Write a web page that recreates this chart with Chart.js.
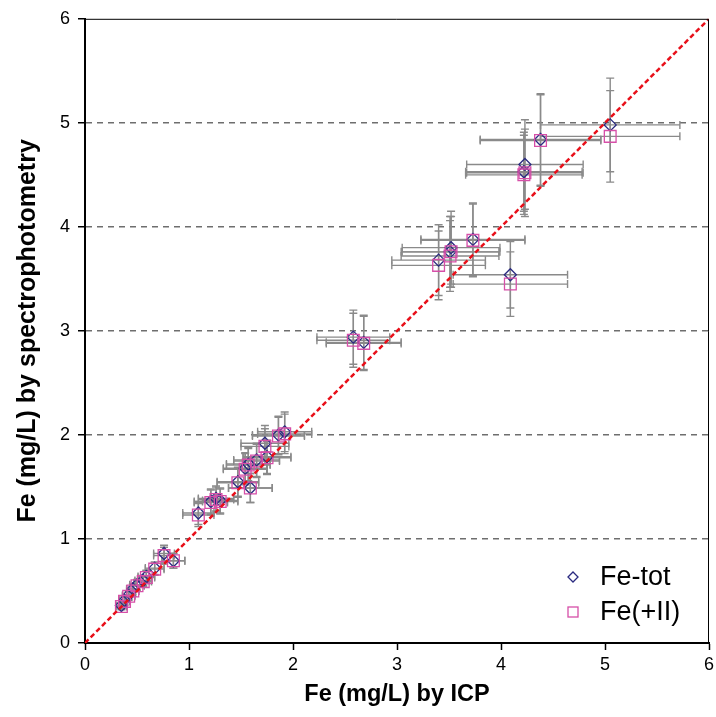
<!DOCTYPE html>
<html>
<head>
<meta charset="utf-8">
<script src="https://cdn.jsdelivr.net/npm/chart.js"></script>
<style>
  html, body { margin: 0; padding: 0; background: #fff; }
  #wrap { width: 716px; height: 717px; }
</style>
</head>
<body>
<div id="wrap"><canvas id="chart" width="716" height="717"></canvas></div>
<script>
// ====== DATA ======
// Fe by ICP (x), shared by both series
const icpFe = [5.05, 4.38, 4.23, 4.22, 3.73, 3.52, 3.51, 3.40, 4.09, 2.58, 2.68,
  1.92, 1.86, 1.73, 1.75, 1.65, 1.57, 1.54, 1.47, 1.59, 1.26, 1.21, 1.30, 1.09,
  0.76, 0.85, 0.67, 0.59, 0.56, 0.50, 0.46, 0.42, 0.38, 0.35];
const icpErr = [0.67, 0.58, 0.56, 0.56, 0.50, 0.47, 0.47, 0.45, 0.55, 0.35, 0.36,
  0.26, 0.25, 0.23, 0.23, 0.22, 0.21, 0.21, 0.20, 0.21, 0.17, 0.16, 0.17, 0.15,
  0.10, 0.11, 0.09, 0.08, 0.08, 0.07, 0.06, 0.06, 0.05, 0.05];

// Fe-tot by spectrophotometry
const feTot = [4.98, 4.84, 4.60, 4.53, 3.88, 3.80, 3.76, 3.68, 3.54, 2.94, 2.89,
  2.03, 2.00, 1.92, 1.79, 1.76, 1.72, 1.68, 1.55, 1.49, 1.39, 1.36, 1.37, 1.25,
  0.86, 0.79, 0.72, 0.64, 0.60, 0.56, 0.52, 0.46, 0.41, 0.36];
const feTotErr = [0.45, 0.44, 0.43, 0.38, 0.35, 0.35, 0.34, 0.34, 0.32, 0.26, 0.26,
  0.19, 0.18, 0.17, 0.16, 0.16, 0.16, 0.15, 0.14, 0.14, 0.12, 0.12, 0.12, 0.11,
  0.08, 0.07, 0.06, 0.06, 0.05, 0.05, 0.05, 0.04, 0.04, 0.03];

// Fe(+II) by spectrophotometry
const fe2 = [4.87, 4.83, 4.52, 4.50, 3.87, 3.76, 3.72, 3.63, 3.45, 2.91, 2.88,
  2.01, 1.99, 1.89, 1.78, 1.75, 1.71, 1.67, 1.54, 1.49, 1.38, 1.35, 1.36, 1.23,
  0.84, 0.79, 0.71, 0.63, 0.59, 0.55, 0.50, 0.45, 0.40, 0.35];
const fe2Err = [0.44, 0.44, 0.42, 0.38, 0.35, 0.34, 0.34, 0.33, 0.31, 0.26, 0.26,
  0.19, 0.18, 0.17, 0.16, 0.16, 0.16, 0.15, 0.14, 0.14, 0.12, 0.12, 0.12, 0.11,
  0.08, 0.07, 0.06, 0.06, 0.05, 0.05, 0.05, 0.04, 0.04, 0.03];

// 1:1 line and axis ticks
const oneToOne = [0, 6];
const axisTicks = [0, 1, 2, 3, 4, 5, 6];
const seriesNames = ["Fe-tot", "Fe(+II)"];

const FONT = "Arial, 'Liberation Sans', sans-serif";
const TOT_COLOR = "#2a2a80";
const FE2_COLOR = "#d64fa8";

// ====== ERROR BARS (drawn under markers) ======
const errorBars = {
  id: "errorBars",
  beforeDatasetsDraw(chart) {
    const ctx = chart.ctx;
    const xs = chart.scales.x, ys = chart.scales.y;
    const cap = 4;
    ctx.save();
    ctx.strokeStyle = "#8a8a8a";
    ctx.lineWidth = 1.4;
    chart.data.datasets.forEach((ds) => {
      if (!ds.errX) return;
      ds.data.forEach((p, i) => {
        const px = xs.getPixelForValue(p.x), py = ys.getPixelForValue(p.y);
        const xl = xs.getPixelForValue(p.x - ds.errX[i]);
        const xr = xs.getPixelForValue(p.x + ds.errX[i]);
        const yt = ys.getPixelForValue(p.y + ds.errY[i]);
        const yb = ys.getPixelForValue(p.y - ds.errY[i]);
        ctx.beginPath();
        ctx.moveTo(xl, py); ctx.lineTo(xr, py);
        ctx.moveTo(xl, py - cap); ctx.lineTo(xl, py + cap);
        ctx.moveTo(xr, py - cap); ctx.lineTo(xr, py + cap);
        ctx.moveTo(px, yt); ctx.lineTo(px, yb);
        ctx.moveTo(px - cap, yt); ctx.lineTo(px + cap, yt);
        ctx.moveTo(px - cap, yb); ctx.lineTo(px + cap, yb);
        ctx.stroke();
      });
    });
    ctx.restore();
  }
};

// ====== FRAME, X TICK LABELS, LEGEND ======
// x tick labels are drawn here so the edge label "6" does not shrink the plot box
const frameLegend = {
  id: "frameLegend",
  afterDraw(chart) {
    const ctx = chart.ctx;
    const a = chart.chartArea;
    const xs = chart.scales.x;
    ctx.save();
    ctx.strokeStyle = "#000";
    ctx.lineWidth = 1;
    ctx.beginPath();
    ctx.moveTo(a.left, a.top + 0.5); ctx.lineTo(a.right - 0.5, a.top + 0.5);
    ctx.lineTo(a.right - 0.5, a.bottom);
    ctx.stroke();

    ctx.fillStyle = "#000";
    ctx.font = "18px " + FONT;
    ctx.textAlign = "center";
    ctx.textBaseline = "middle";
    axisTicks.forEach((v) => {
      ctx.fillText(String(v), xs.getPixelForValue(v), a.bottom + 22.5);
    });

    // legend, bottom right inside plot
    const lx = a.right - 136;
    const rows = [a.bottom - 66, a.bottom - 31];
    ctx.lineWidth = 1.3;
    ctx.strokeStyle = TOT_COLOR;
    ctx.beginPath();
    ctx.moveTo(lx - 5, rows[0]); ctx.lineTo(lx, rows[0] - 5);
    ctx.lineTo(lx + 5, rows[0]); ctx.lineTo(lx, rows[0] + 5); ctx.closePath();
    ctx.stroke();
    ctx.strokeStyle = FE2_COLOR;
    ctx.strokeRect(lx - 5, rows[1] - 5, 10, 10);
    ctx.font = "27px " + FONT;
    ctx.textAlign = "left";
    ctx.fillText(seriesNames[0], lx + 27, rows[0] + 1);
    ctx.fillText(seriesNames[1], lx + 27, rows[1] + 1);
    ctx.restore();
  }
};

function toPoints(xs, ys) {
  return xs.map((x, i) => ({ x: x, y: ys[i] }));
}

new Chart(document.getElementById("chart"), {
  type: "scatter",
  data: {
    datasets: [
      {
        type: "line",
        label: "1:1",
        data: toPoints(oneToOne, oneToOne),
        borderColor: "#e8101a",
        borderWidth: 2.5,
        borderDash: [5, 3],
        pointRadius: 0,
        fill: false,
        order: 0
      },
      {
        label: seriesNames[0],
        data: toPoints(icpFe, feTot),
        errX: icpErr,
        errY: feTotErr,
        pointStyle: "rectRot",
        pointRadius: 6,
        borderColor: TOT_COLOR,
        backgroundColor: "rgba(0,0,0,0)",
        borderWidth: 1.3,
        order: 2
      },
      {
        label: seriesNames[1],
        data: toPoints(icpFe, fe2),
        errX: icpErr,
        errY: fe2Err,
        pointStyle: "rect",
        pointRadius: 8.3,
        borderColor: FE2_COLOR,
        backgroundColor: "rgba(0,0,0,0)",
        borderWidth: 1.3,
        order: 1
      }
    ]
  },
  options: {
    responsive: false,
    animation: false,
    // no automatic padding for point overflow: keeps the plot box at 85..709
    layout: { autoPadding: false, padding: { top: 18, right: 7, left: 0, bottom: 0 } },
    plugins: {
      legend: { display: false },
      tooltip: { enabled: false }
    },
    scales: {
      x: {
        type: "linear",
        min: 0, max: 6,
        afterBuildTicks: (s) => { s.ticks = axisTicks.map((v) => ({ value: v })); },
        afterFit: (s) => { s.height = 74; },
        ticks: { display: false },
        grid: { drawOnChartArea: false, drawTicks: true, tickLength: 7, tickColor: "#000", tickWidth: 1.5 },
        border: { color: "#000", width: 2 },
        title: {
          display: true,
          text: "Fe (mg/L) by ICP",
          color: "#000",
          font: { family: FONT, size: 23.5, weight: "bold" },
          padding: { top: 0, bottom: 8 }
        }
      },
      y: {
        type: "linear",
        min: 0, max: 6,
        afterBuildTicks: (s) => { s.ticks = axisTicks.map((v) => ({ value: v })); },
        afterFit: (s) => { s.width = 85; },
        ticks: { color: "#000", padding: 8, font: { family: FONT, size: 18 } },
        grid: {
          drawTicks: true,
          tickLength: 7,
          tickColor: "#000",
          tickWidth: 1.5,
          lineWidth: 1.5,
          color: (c) => (c.tick && (c.tick.value === 0 || c.tick.value === 6)) ? "rgba(0,0,0,0)" : "#6e6e6e"
        },
        border: { color: "#000", width: 2, dash: [6, 5] },
        title: {
          display: true,
          text: "Fe (mg/L) by spectrophotometry",
          color: "#000",
          font: { family: FONT, size: 25, weight: "bold" },
          padding: { top: 13, bottom: 0 }
        }
      }
    }
  },
  plugins: [errorBars, frameLegend]
});
</script>
</body>
</html>
